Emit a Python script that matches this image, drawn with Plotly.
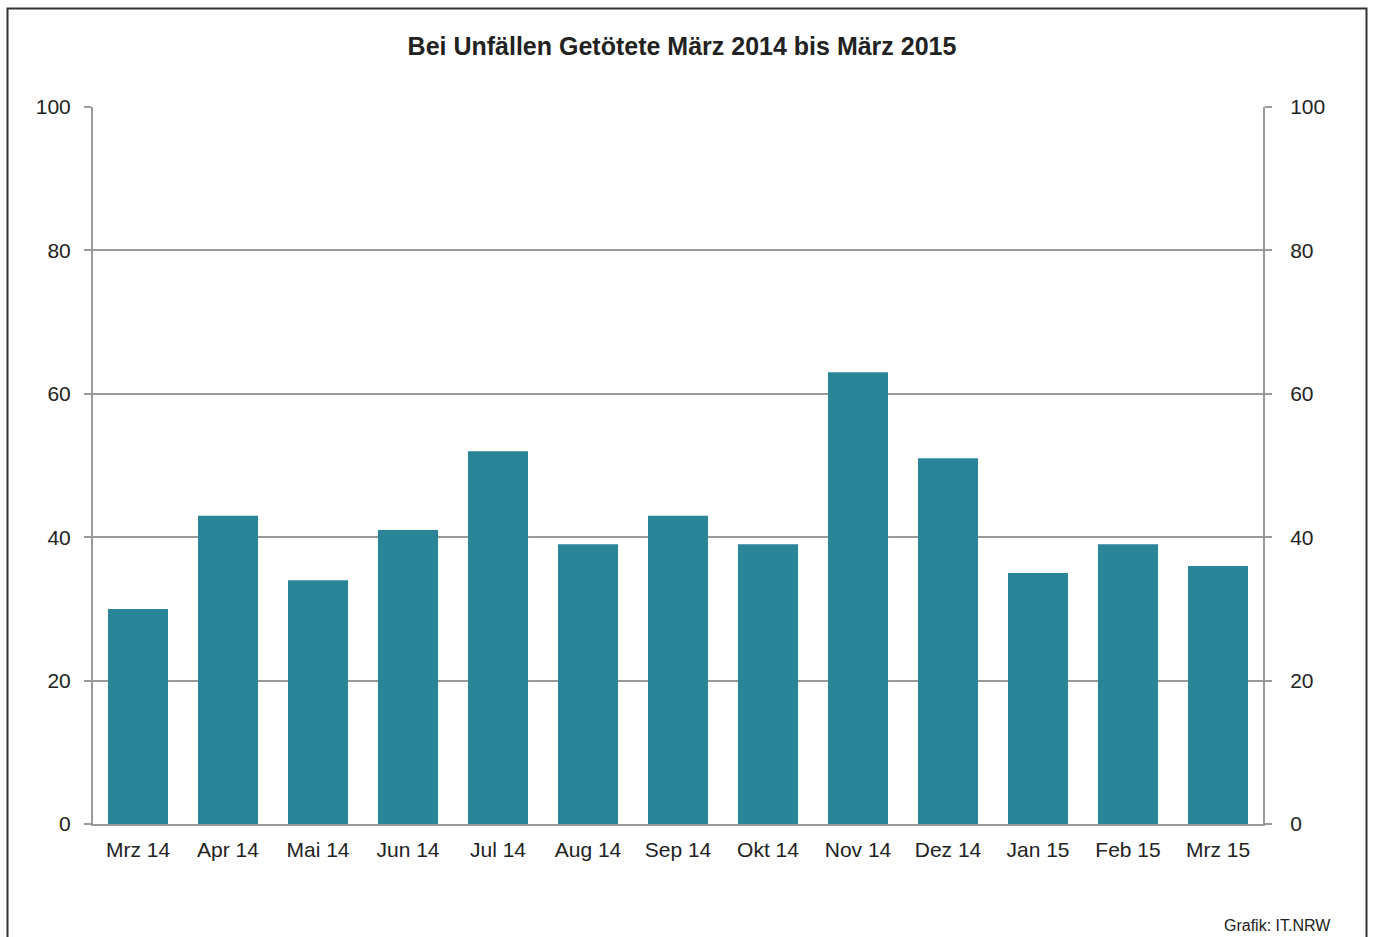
import plotly.graph_objects as go

categories = ["Mrz 14", "Apr 14", "Mai 14", "Jun 14", "Jul 14", "Aug 14", "Sep 14",
              "Okt 14", "Nov 14", "Dez 14", "Jan 15", "Feb 15", "Mrz 15"]
values = [30, 43, 34, 41, 52, 39, 43, 39, 63, 51, 35, 39, 36]
y_ticks = [0, 20, 40, 60, 80, 100]

W, H = 1373, 937
ml, mr, mt, mb = 93, W - 1263, 107, H - 824
pw, ph = W - ml - mr, H - mt - mb

def px_x(x):
    return (x - ml) / pw

def px_y(y):
    return (H - mb - y) / ph

fig = go.Figure()
fig.add_trace(go.Bar(x=categories, y=values, marker=dict(color="#2a8599", line=dict(width=0)),
                     yaxis="y", showlegend=False, hoverinfo="x+y"))
fig.add_trace(go.Bar(x=categories, y=values, marker=dict(color="rgba(0,0,0,0)"),
                     yaxis="y2", showlegend=False, hoverinfo="skip", opacity=0))

font = "Liberation Sans, Arial, sans-serif"
axis_common = dict(range=[0, 100], tickvals=y_ticks, showline=True, linecolor="#9a9a9a",
                   linewidth=2, ticks="outside", ticklen=7, tickwidth=2, tickcolor="#9a9a9a",
                   tickfont=dict(family=font, size=21, color="#222"), zeroline=False,
                   fixedrange=True)

fig.update_layout(
    width=W, height=H,
    margin=dict(l=ml, r=mr, t=mt, b=mb),
    paper_bgcolor="white", plot_bgcolor="white",
    barmode="overlay",
    bargap=0.333,
    title=dict(text="<b>Bei Unfällen Getötete März 2014 bis März 2015</b>",
               x=682 / W, xanchor="center", y=1 - 46 / H, yanchor="middle",
               font=dict(family=font, size=25, color="#222")),
    xaxis=dict(type="category", showline=True, linecolor="#9a9a9a", linewidth=2, ticks="",
               tickfont=dict(family=font, size=21, color="#222"), showgrid=False,
               ticklabelstandoff=6, fixedrange=True),
    yaxis=dict(**axis_common, side="left", showgrid=True, gridcolor="#9a9a9a", gridwidth=1.5,
               ticklabelstandoff=9),
    yaxis2=dict(**axis_common, side="right", overlaying="y", showgrid=False,
                ticklabelstandoff=14),
    shapes=[dict(type="rect", xref="paper", yref="paper",
                 x0=px_x(7.5), x1=px_x(1366.5), y0=px_y(960), y1=px_y(8.5),
                 line=dict(color="#333", width=2), fillcolor="rgba(0,0,0,0)", layer="above")],
    annotations=[dict(text="Grafik: IT.NRW", xref="paper", yref="paper",
                      x=px_x(1333), y=px_y(925), xanchor="right", yanchor="middle",
                      showarrow=False, font=dict(family=font, size=16, color="#222"))],
)

fig.write_html("out.html", config={"displayModeBar": False},
               post_script="document.body.style.margin='0';document.body.style.overflow='hidden';")
